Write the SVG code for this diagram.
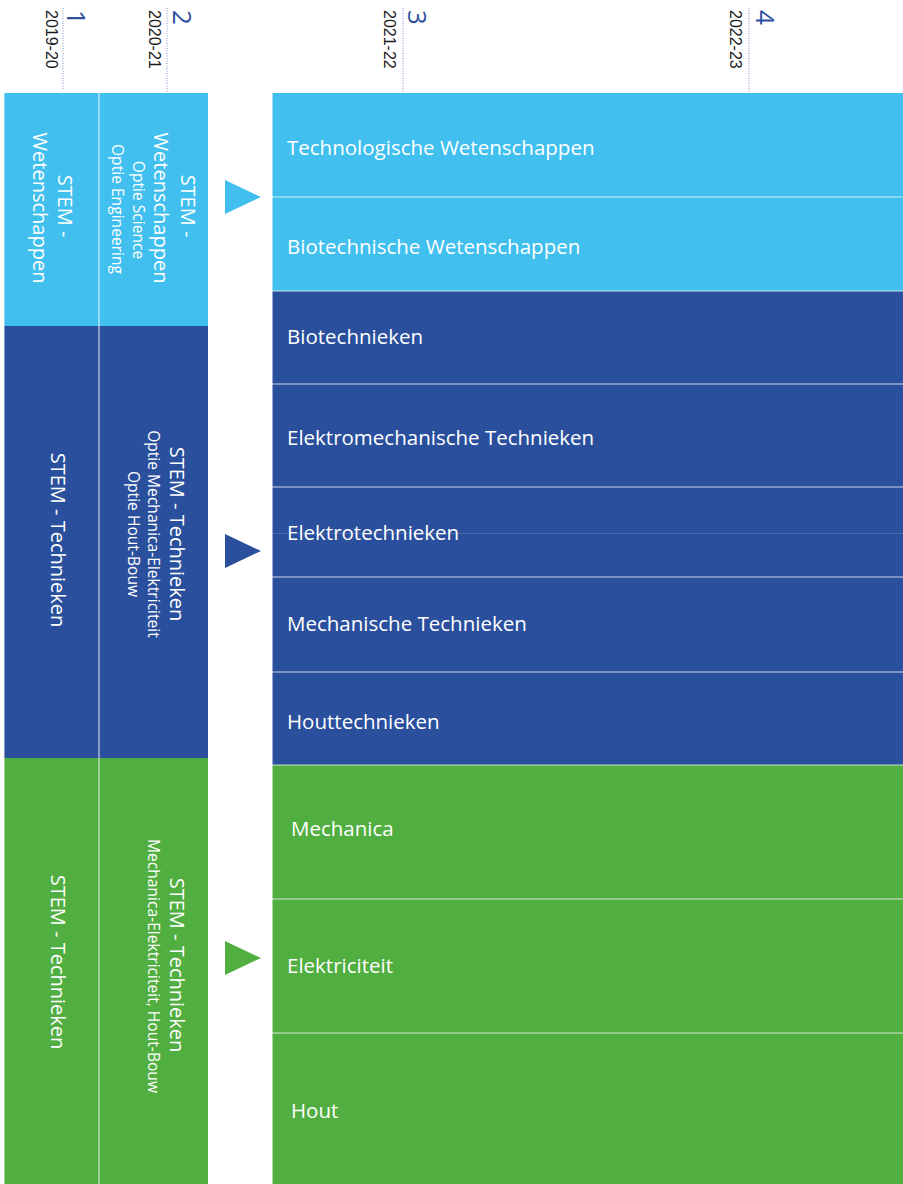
<svg xmlns="http://www.w3.org/2000/svg" width="903" height="1184" viewBox="0 0 903 1184">
<style>
.lb{fill:#41BFEF}
.db{fill:#2A4F9D}
.gr{fill:#51AE40}
.sep{stroke:#FFFFFF;stroke-opacity:0.75;stroke-width:1.2}
.t{font-family:"Open Sans","Noto Sans",sans-serif;fill:#FFFFFF}
.big{font-size:20px}
.sm{font-size:15.6px}
.row{font-size:20.5px}
.yr{font-family:"Liberation Sans",Arial,sans-serif;font-size:16px;fill:#1a1a1a}
.num{font-family:"Open Sans","Noto Sans",sans-serif;font-size:26px;fill:#2E4F9E}
.dot{stroke:#7F95CC;stroke-width:1;stroke-dasharray:1 1.5}
</style>
<rect width="903" height="1184" fill="#FFFFFF"/>
<g id="header">
  <line class="dot" x1="63" y1="8" x2="63" y2="89"/>
  <line class="dot" x1="167" y1="8" x2="167" y2="93"/>
  <line class="dot" x1="403" y1="8" x2="403" y2="93"/>
  <line class="dot" x1="749" y1="8" x2="749" y2="93"/>
  <text class="num" transform="translate(67,10) rotate(90)">1</text>
  <text class="num" transform="translate(173,10) rotate(90)">2</text>
  <text class="num" transform="translate(408,10) rotate(90)">3</text>
  <text class="num" transform="translate(756,10) rotate(90)">4</text>
  <text class="yr" transform="translate(46,10) rotate(90)">2019-20</text>
  <text class="yr" transform="translate(149,10) rotate(90)">2020-21</text>
  <text class="yr" transform="translate(384,10) rotate(90)">2021-22</text>
  <text class="yr" transform="translate(730,10) rotate(90)">2022-23</text>
</g>
<g id="col1-wetenschappen">
  <rect class="lb" x="4" y="93" width="95" height="233"/>
  <text class="t big" text-anchor="middle" transform="translate(58,206) rotate(90)">STEM -</text>
  <text class="t big" text-anchor="middle" transform="translate(33,208) rotate(90)">Wetenschappen</text>
</g>
<g id="col2-wetenschappen">
  <rect class="lb" x="99" y="93" width="109" height="233"/>
  <text class="t big" text-anchor="middle" transform="translate(181,206) rotate(90)">STEM -</text>
  <text class="t big" text-anchor="middle" transform="translate(154,208) rotate(90)">Wetenschappen</text>
  <text class="t sm" text-anchor="middle" transform="translate(133,210) rotate(90)">Optie Science</text>
  <text class="t sm" text-anchor="middle" transform="translate(112,209) rotate(90)">Optie Engineering</text>
</g>
<g id="col1-technieken">
  <rect class="db" x="4" y="326" width="95" height="432"/>
  <text class="t big" text-anchor="middle" transform="translate(51,540) rotate(90)">STEM - Technieken</text>
</g>
<g id="col2-technieken">
  <rect class="db" x="99" y="326" width="109" height="432"/>
  <text class="t big" text-anchor="middle" transform="translate(170,534) rotate(90)">STEM - Technieken</text>
  <text class="t sm" text-anchor="middle" transform="translate(148,534) rotate(90)">Optie Mechanica-Elektriciteit</text>
  <text class="t sm" text-anchor="middle" transform="translate(128,534) rotate(90)">Optie Hout-Bouw</text>
</g>
<g id="col1-technieken-green">
  <rect class="gr" x="4" y="758" width="95" height="426"/>
  <text class="t big" text-anchor="middle" transform="translate(51,962) rotate(90)">STEM - Technieken</text>
</g>
<g id="col2-technieken-green">
  <rect class="gr" x="99" y="758" width="109" height="426"/>
  <text class="t big" text-anchor="middle" transform="translate(170,965) rotate(90)">STEM - Technieken</text>
  <text class="t sm" text-anchor="middle" transform="translate(148,966) rotate(90)">Mechanica-Elektriciteit, Hout-Bouw</text>
</g>
<line class="sep" x1="99" y1="93" x2="99" y2="1184"/>
<line stroke="#FFFFFF" stroke-opacity="0.4" x1="4.5" y1="93" x2="4.5" y2="1184"/>

<g id="technologische-wetenschappen">
  <rect class="lb" x="272" y="93" width="631" height="104"/>
  <text class="t row" x="287" y="155">Technologische Wetenschappen</text>
</g>
<g id="biotechnische-wetenschappen">
  <rect class="lb" x="272" y="197" width="631" height="94"/>
  <text class="t row" x="287" y="254">Biotechnische Wetenschappen</text>
</g>
<g id="biotechnieken">
  <rect class="db" x="272" y="291" width="631" height="93"/>
  <text class="t row" x="287" y="344">Biotechnieken</text>
</g>
<g id="elektromechanische-technieken">
  <rect class="db" x="272" y="384" width="631" height="103"/>
  <text class="t row" x="287" y="445">Elektromechanische Technieken</text>
</g>
<g id="elektrotechnieken">
  <rect class="db" x="272" y="487" width="631" height="90"/>
  <line stroke="#FFFFFF" stroke-opacity="0.15" x1="272" y1="533.5" x2="903" y2="533.5"/>
  <text class="t row" x="287" y="540">Elektrotechnieken</text>
</g>
<g id="mechanische-technieken">
  <rect class="db" x="272" y="577" width="631" height="95"/>
  <text class="t row" x="287" y="631">Mechanische Technieken</text>
</g>
<g id="houttechnieken">
  <rect class="db" x="272" y="672" width="631" height="93"/>
  <text class="t row" x="287" y="729">Houttechnieken</text>
</g>
<g id="mechanica">
  <rect class="gr" x="272" y="765" width="631" height="134"/>
  <text class="t row" x="291" y="836">Mechanica</text>
</g>
<g id="elektriciteit">
  <rect class="gr" x="272" y="899" width="631" height="134"/>
  <text class="t row" x="287" y="973">Elektriciteit</text>
</g>
<g id="hout">
  <rect class="gr" x="272" y="1033" width="631" height="151"/>
  <text class="t row" x="291" y="1118">Hout</text>
</g>
<g id="row-separators">
  <line class="sep" x1="272" y1="197" x2="903" y2="197"/>
  <line class="sep" x1="272" y1="291" x2="903" y2="291"/>
  <line class="sep" x1="272" y1="384" x2="903" y2="384"/>
  <line class="sep" x1="272" y1="487" x2="903" y2="487"/>
  <line class="sep" x1="272" y1="577" x2="903" y2="577"/>
  <line class="sep" x1="272" y1="672" x2="903" y2="672"/>
  <line class="sep" x1="272" y1="765" x2="903" y2="765"/>
  <line class="sep" x1="272" y1="899" x2="903" y2="899"/>
  <line class="sep" x1="272" y1="1033" x2="903" y2="1033"/>
  <line stroke="#FFFFFF" stroke-opacity="0.5" x1="272.5" y1="93" x2="272.5" y2="1184"/>
</g>
<g id="connectors">
  <polygon class="lb" points="225,180 261,197 225,214"/>
  <polygon class="db" points="225,534 261,551 225,568"/>
  <polygon class="gr" points="225,941 261,958 225,975"/>
</g>
</svg>
